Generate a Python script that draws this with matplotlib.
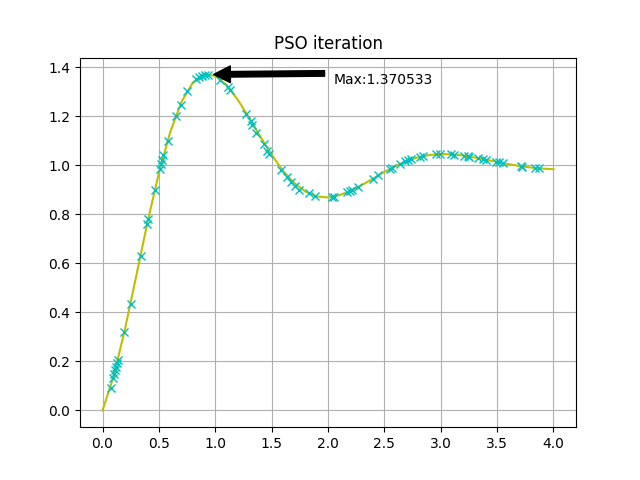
import matplotlib
matplotlib.use("Agg")
import matplotlib.pyplot as plt

# response curve (time, value)
curve_t = [0.0, 0.1, 0.2, 0.3, 0.4, 0.5, 0.6, 0.7, 0.8, 0.9, 1.0,
           1.1, 1.2, 1.3, 1.4, 1.5, 1.6, 1.7, 1.8, 1.9, 2.0,
           2.1, 2.2, 2.3, 2.4, 2.5, 2.6, 2.7, 2.8, 2.9, 3.0,
           3.1, 3.2, 3.3, 3.4, 3.5, 3.6, 3.7, 3.8, 3.9, 4.0]
curve_y = [0.0, 0.141, 0.334, 0.551, 0.770, 0.969, 1.135, 1.259, 1.337, 1.371, 1.365,
           1.328, 1.267, 1.194, 1.117, 1.043, 0.978, 0.928, 0.893, 0.873, 0.869,
           0.878, 0.895, 0.919, 0.946, 0.973, 0.997, 1.018, 1.033, 1.042, 1.046,
           1.045, 1.040, 1.032, 1.023, 1.014, 1.005, 0.997, 0.991, 0.987, 0.984]

# particle positions
particles_t = [0.071, 0.095, 0.105, 0.113, 0.121, 0.130, 0.138, 0.194, 0.253, 0.341,
               0.394, 0.406, 0.468, 0.506, 0.517, 0.526, 0.539, 0.585, 0.656, 0.698,
               0.753, 0.827, 0.856, 0.886, 0.909, 0.939, 1.045, 1.115, 1.135, 1.269,
               1.313, 1.327, 1.362, 1.430, 1.460, 1.480, 1.587, 1.636, 1.675, 1.704,
               1.746, 1.834, 1.881, 2.034, 2.050, 2.166, 2.195, 2.215, 2.263, 2.400,
               2.446, 2.549, 2.565, 2.637, 2.687, 2.710, 2.740, 2.813, 2.843, 2.960,
               2.990, 3.093, 3.120, 3.210, 3.240, 3.255, 3.330, 3.373, 3.400, 3.490,
               3.520, 3.550, 3.710, 3.725, 3.840, 3.870]
particles_y = [0.093, 0.133, 0.150, 0.165, 0.177, 0.193, 0.207, 0.320, 0.433, 0.629,
               0.762, 0.782, 0.901, 0.986, 1.007, 1.023, 1.041, 1.100, 1.200, 1.248,
               1.302, 1.351, 1.360, 1.366, 1.369, 1.370, 1.350, 1.318, 1.306, 1.209,
               1.180, 1.163, 1.133, 1.088, 1.058, 1.046, 0.982, 0.952, 0.932, 0.914,
               0.900, 0.887, 0.876, 0.871, 0.872, 0.890, 0.896, 0.899, 0.910, 0.946,
               0.959, 0.986, 0.990, 1.004, 1.016, 1.020, 1.025, 1.034, 1.037, 1.045,
               1.046, 1.045, 1.044, 1.039, 1.037, 1.035, 1.030, 1.026, 1.023, 1.015,
               1.012, 1.009, 0.996, 0.995, 0.989, 0.988]

max_t = 0.93
max_y = 1.370533
title = "PSO iteration"

fig = plt.figure(figsize=(6.4, 4.8), dpi=100)
plt.plot(curve_t, curve_y, 'y')
plt.plot(particles_t, particles_y, 'cx')
plt.annotate('Max:%f' % max_y, xy=(max_t, max_y), xytext=(max_t + 1.12, max_y - 0.04),
             arrowprops=dict(facecolor='black', shrink=0.05))
plt.title(title)
plt.grid(True)
plt.savefig('out.png')
